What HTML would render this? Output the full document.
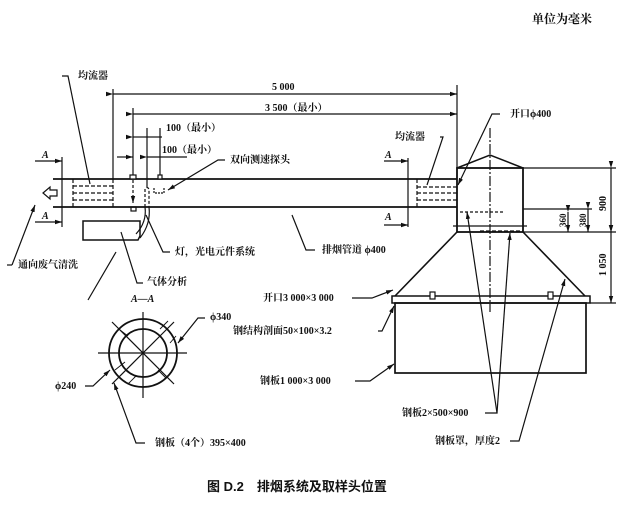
<!DOCTYPE html>
<html><head><meta charset="utf-8"><style>
html,body{margin:0;padding:0;background:#fff;}
svg{display:block;}
text{font-family:"Liberation Serif","Noto Serif CJK SC","Noto Sans CJK SC",serif;font-size:10px;fill:#111;font-weight:bold;}
</style></head><body>
<svg width="626" height="509" viewBox="0 0 626 509" xmlns="http://www.w3.org/2000/svg">
<defs>
<marker id="ar" markerWidth="8" markerHeight="6" refX="7" refY="3" orient="auto" markerUnits="userSpaceOnUse">
<path d="M0,0.8 L7,3 L0,5.2 Z" fill="#111"/></marker>
</defs>
<g stroke="#111" fill="none" stroke-width="1.2">
<line x1="53" y1="179" x2="457" y2="179" stroke-width="1.8"/>
<line x1="53" y1="207" x2="457" y2="207" stroke-width="1.8"/>
<line x1="62" y1="157" x2="62" y2="227"/>
<line x1="35" y1="161" x2="62" y2="161" marker-end="url(#ar)"/>
<line x1="35" y1="222" x2="62" y2="222" marker-end="url(#ar)"/>
<path d="M43,193 L50,187 L50,190 L57,190 L57,196 L50,196 L50,199 Z"/>
<g stroke-dasharray="4,2">
<line x1="73" y1="179" x2="73" y2="207"/><line x1="113" y1="179" x2="113" y2="207"/>
<line x1="73" y1="186" x2="113" y2="186"/><line x1="73" y1="193" x2="113" y2="193"/><line x1="73" y1="200" x2="113" y2="200"/>
</g>
<line x1="113" y1="89" x2="113" y2="179"/>
<line x1="457" y1="85" x2="457" y2="179"/>
<line x1="113" y1="94" x2="457" y2="94" marker-start="url(#ar)" marker-end="url(#ar)"/>
<line x1="133" y1="108" x2="133" y2="176"/>
<line x1="133" y1="114" x2="457" y2="114" marker-start="url(#ar)" marker-end="url(#ar)"/>
<line x1="147" y1="128" x2="147" y2="187"/>
<line x1="160" y1="128" x2="160" y2="176"/>
<line x1="133" y1="137" x2="147" y2="137" marker-start="url(#ar)"/>
<line x1="147" y1="137" x2="162" y2="137"/>
<line x1="117" y1="157" x2="133" y2="157" marker-end="url(#ar)"/>
<line x1="147" y1="157" x2="187" y2="157" marker-start="url(#ar)"/>
<rect x="130" y="175" width="6" height="4" fill="#fff"/>
<rect x="158" y="175" width="4" height="4" fill="#fff"/>
<path d="M154,188 L154,193 L164,193 L164,188" stroke-dasharray="2,1"/>
<line x1="133" y1="180" x2="133" y2="203" stroke-dasharray="3,2" marker-end="url(#ar)"/>
<path d="M145,207 L145,189 Q147,186 149,189 L149,207" stroke-dasharray="3,2"/>
<rect x="131" y="207" width="5" height="4"/>
<path d="M83,221 L140,221 L140,236 L138,240 L83,240 Z" stroke-width="1.5"/>
<path d="M145,207 Q147,222 136,234 M149,207 Q151,224 140,238"/>
<polyline points="62,76 68,76 90,184" />
<line x1="12" y1="265" x2="35" y2="205" marker-end="url(#ar)"/>
<polyline points="12,265 7,265" />
<polyline points="170,252 163,252 146,215" />
<polyline points="143,283 137,283 121,232" />
<line x1="88" y1="300" x2="116" y2="252"/>
<polyline points="225,160 218,160 168,190" marker-end="url(#ar)"/>
<polyline points="315,250 306,250 292,215" />
<line x1="408" y1="158" x2="408" y2="227"/>
<line x1="384" y1="161" x2="408" y2="161" marker-end="url(#ar)"/>
<line x1="384" y1="225" x2="408" y2="225" marker-end="url(#ar)"/>
<g stroke-dasharray="4,2">
<line x1="417" y1="179" x2="417" y2="207"/>
<line x1="417" y1="187" x2="457" y2="187"/><line x1="417" y1="193" x2="457" y2="193"/><line x1="417" y1="200" x2="457" y2="200"/>
</g>
<polyline points="440,137 443,137 427,185" />
<polyline points="500,114 492,114 458,185" marker-end="url(#ar)"/>
<rect x="457" y="168" width="66" height="64" stroke-width="1.8"/>
<polyline points="457,168 490,155 523,168" stroke-width="1.5"/>
<line x1="490" y1="128" x2="490" y2="312" stroke-dasharray="10,2,2,2"/>
<line x1="523" y1="209" x2="592" y2="209"/>
<line x1="460" y1="212" x2="505" y2="212" stroke-dasharray="3,2"/>
<line x1="453" y1="226" x2="527" y2="226"/>
<line x1="480" y1="231" x2="523" y2="231" stroke-dasharray="4,2"/>
<polyline points="457,232 395,296" stroke-width="1.6"/>
<polyline points="523,232 585,296" stroke-width="1.6"/>
<rect x="392" y="296" width="198" height="7" stroke-width="1.5"/>
<rect x="430" y="292" width="5" height="7" fill="#fff"/>
<rect x="548" y="292" width="5" height="7" fill="#fff"/>
<rect x="395" y="303" width="191" height="70" stroke-width="1.7"/>
<line x1="523" y1="168" x2="616" y2="168"/>
<line x1="523" y1="232" x2="616" y2="232"/>
<line x1="590" y1="303" x2="616" y2="303"/>
<line x1="611" y1="168" x2="611" y2="232" marker-start="url(#ar)" marker-end="url(#ar)"/>
<line x1="611" y1="232" x2="611" y2="303" marker-start="url(#ar)" marker-end="url(#ar)"/>
<line x1="568" y1="212" x2="568" y2="232" marker-start="url(#ar)" marker-end="url(#ar)"/>
<line x1="588" y1="209" x2="588" y2="232" marker-start="url(#ar)" marker-end="url(#ar)"/>
<polyline points="352,298 372,298 393,290" marker-end="url(#ar)"/>
<polyline points="378,331 382,331 394,306" marker-end="url(#ar)"/>
<polyline points="355,381 370,381 394,364" marker-end="url(#ar)"/>
<polyline points="485,413 497,413 467,212" marker-end="url(#ar)"/>
<line x1="497" y1="413" x2="510" y2="233" marker-end="url(#ar)"/>
<polyline points="510,441 519,441 565,279" marker-end="url(#ar)"/>
<circle cx="143" cy="353" r="34" stroke-width="1.8"/>
<circle cx="143" cy="353" r="24" stroke-width="1.8"/>
<line x1="98" y1="353" x2="187" y2="353"/>
<line x1="143" y1="312" x2="143" y2="398"/>
<line x1="112" y1="322" x2="174" y2="384"/>
<line x1="174" y1="322" x2="112" y2="384"/>
<g stroke-width="0.9">
<line x1="115" y1="370" x2="125" y2="362"/><line x1="128" y1="384" x2="136" y2="376"/>
<line x1="160" y1="329" x2="168" y2="321"/><line x1="170" y1="343" x2="176" y2="336"/>
<line x1="120" y1="330" x2="128" y2="336"/><line x1="158" y1="370" x2="166" y2="378"/>
</g>
<polyline points="205,318 198,318 178,343" marker-end="url(#ar)"/>
<polyline points="85,386 93,386 110,370" marker-end="url(#ar)"/>
<polyline points="145,443 136,443 114,383" marker-end="url(#ar)"/>
</g>
<text x="532" y="23" style="font-size:12px">单位为毫米</text>
<text x="78" y="79">均流器</text>
<text x="272" y="90">5 000</text>
<text x="265" y="111">3 500（最小）</text>
<text x="166" y="131">100（最小）</text>
<text x="162" y="153">100（最小）</text>
<text x="230" y="163">双向测速探头</text>
<text x="42" y="158" font-style="italic">A</text>
<text x="42" y="219" font-style="italic">A</text>
<text x="385" y="158" font-style="italic">A</text>
<text x="385" y="220" font-style="italic">A</text>
<text x="395" y="140">均流器</text>
<text x="510" y="117">开口ϕ400</text>
<text x="175" y="255">灯，光电元件系统</text>
<text x="18" y="268">通向废气清洗</text>
<text x="147" y="285">气体分析</text>
<text x="322" y="253">排烟管道 ϕ400</text>
<text x="131" y="302" font-style="italic">A—A</text>
<text x="263" y="301">开口3 000×3 000</text>
<text x="210" y="320">ϕ340</text>
<text x="233" y="334">钢结构剖面50×100×3.2</text>
<text x="55" y="389">ϕ240</text>
<text x="260" y="384">钢板1 000×3 000</text>
<text x="155" y="446">钢板（4个）395×400</text>
<text x="402" y="416">钢板2×500×900</text>
<text x="435" y="444">钢板罩，厚度2</text>
<text transform="translate(606,211) rotate(-90)">900</text>
<text transform="translate(606,276) rotate(-90)">1 050</text>
<text transform="translate(566,227) rotate(-90)" style="font-size:9px">360</text>
<text transform="translate(586,227) rotate(-90)" style="font-size:9px">380</text>
<text x="207" y="491" style="font-size:13px;font-family:'Liberation Sans','Noto Sans CJK SC',sans-serif">图 D.2　排烟系统及取样头位置</text>
</svg>
</body></html>
